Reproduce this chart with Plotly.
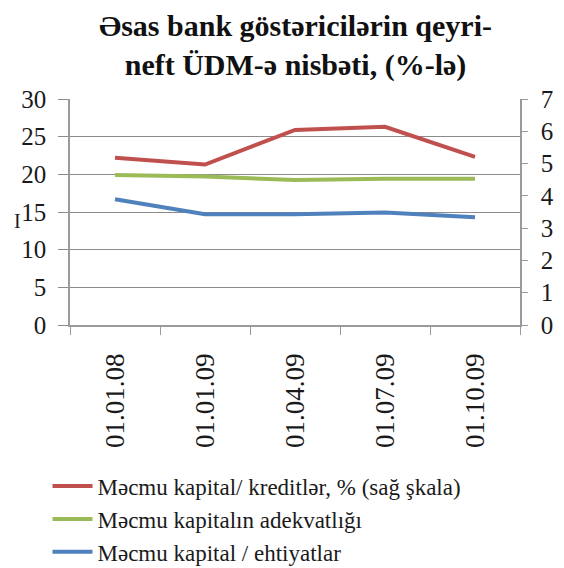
import plotly.graph_objects as go

# Reporting dates (category axis)
dates = ["01.01.08", "01.01.09", "01.04.09", "01.07.09", "01.10.09"]

# Total capital / credits, % (right scale)
capital_to_credits = [5.18, 4.97, 6.04, 6.14, 5.21]
# Total capital adequacy (left scale)
capital_adequacy = [19.9, 19.7, 19.25, 19.4, 19.4]
# Total capital / reserves (left scale)
capital_to_reserves = [16.7, 14.7, 14.7, 14.95, 14.3]

left_ticks = [0, 5, 10, 15, 20, 25, 30]
right_ticks = [0, 1, 2, 3, 4, 5, 6, 7]

SERIF = "Liberation Serif"
AXIS_GRAY = "#9a9a9a"
GRID_GRAY = "#8c8c8c"
TEXT = "#1a1a1a"

fig = go.Figure()

fig.add_trace(go.Scatter(
    x=dates, y=capital_to_credits, yaxis="y2", mode="lines",
    name="Məcmu kapital/ kreditlər, % (sağ şkala)",
    line=dict(color="#C0504D", width=4),
))
fig.add_trace(go.Scatter(
    x=dates, y=capital_adequacy, mode="lines",
    name="Məcmu kapitalın adekvatlığı",
    line=dict(color="#9BBB59", width=4),
))
fig.add_trace(go.Scatter(
    x=dates, y=capital_to_reserves, mode="lines",
    name="Məcmu kapital / ehtiyatlar",
    line=dict(color="#4F81BD", width=4),
))

fig.update_layout(
    width=564, height=568,
    margin=dict(l=70, r=44, t=99, b=243, autoexpand=False),
    paper_bgcolor="white", plot_bgcolor="white",
    font=dict(family=SERIF, color=TEXT),
    xaxis=dict(
        type="category", tickangle=-90, range=[-0.5, 4.5],
        showline=True, linecolor=AXIS_GRAY, linewidth=1.5,
        ticks="outside", tickson="boundaries", ticklen=8, tickcolor=AXIS_GRAY,
        tickfont=dict(family=SERIF, size=27, color=TEXT),
        showgrid=False, ticklabelstandoff=16,
    ),
    yaxis=dict(
        range=[0, 30], tickvals=left_ticks,
        showline=True, linecolor=AXIS_GRAY, linewidth=1.5,
        ticks="outside", ticklen=10, tickcolor=GRID_GRAY,
        showgrid=True, gridcolor=GRID_GRAY, gridwidth=1.2,
        zeroline=False, ticklabelstandoff=7,
        tickfont=dict(family=SERIF, size=25, color=TEXT),
    ),
    yaxis2=dict(
        range=[0, 7], tickvals=right_ticks, overlaying="y", side="right",
        showline=True, linecolor=AXIS_GRAY, linewidth=1.5,
        ticks="outside", ticklen=6, tickcolor=AXIS_GRAY,
        showgrid=False, zeroline=False, ticklabelstandoff=8,
        tickfont=dict(family=SERIF, size=25, color=TEXT),
    ),
    legend=dict(
        x=-0.05, xanchor="left", y=-1.10, yanchor="bottom",
        font=dict(family=SERIF, size=23, color=TEXT),
        tracegroupgap=0, itemwidth=40, bgcolor="rgba(0,0,0,0)",
    ),
    showlegend=True,
)

# chart heading above the plot area
fig.add_annotation(
    text="<b>Əsas bank göstəricilərin qeyri-<br>neft ÜDM-ə nisbəti, (%-lə)</b>",
    xref="paper", yref="paper", x=0.5, y=1.405, xanchor="center", yanchor="top",
    showarrow=False, align="center",
    font=dict(family=SERIF, size=30, color="#111111"),
)

# small stray glyph beside the left scale
fig.add_annotation(
    text="I", xref="paper", yref="paper", x=-0.13, y=0.46,
    showarrow=False, font=dict(family=SERIF, size=20, color=TEXT),
)

fig.write_html("out.html")
